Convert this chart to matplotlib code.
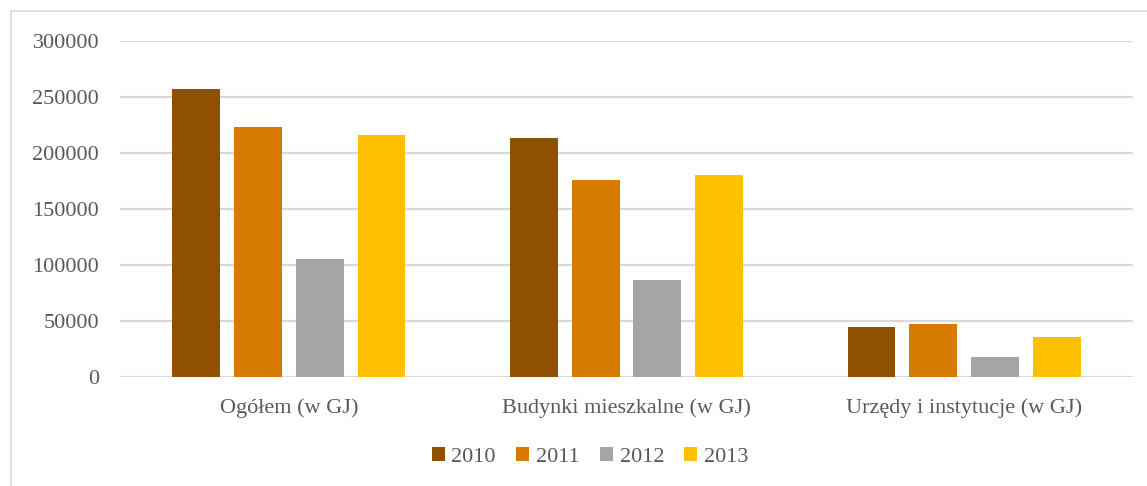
import matplotlib
matplotlib.use("Agg")
import matplotlib.pyplot as plt
from matplotlib.lines import Line2D
from matplotlib.patches import Patch
import numpy as np

categories = ["Ogółem (w GJ)", "Budynki mieszkalne (w GJ)", "Urzędy i instytucje (w GJ)"]
years = ["2010", "2011", "2012", "2013"]
v2010 = [257500, 213000, 44500]
v2011 = [223000, 175700, 47000]
v2012 = [105500, 87000, 18300]
v2013 = [216000, 180500, 35800]
yticks = [0, 50000, 100000, 150000, 200000, 250000, 300000]

series = [v2010, v2011, v2012, v2013]
colors = ["#8F5000", "#D77A00", "#A5A5A5", "#FFC000"]

W, H = 1147, 486
fig = plt.figure(figsize=(W / 100, H / 100), dpi=100)
plt.rcParams["font.family"] = ["Liberation Serif", "DejaVu Serif"]
txt = "#595959"
fs = 16

left, right, top, bottom = 120, 1133, 41, 377
ax = fig.add_axes([left / W, (H - bottom) / H, (right - left) / W, (bottom - top) / H])

x = np.arange(len(categories))
step = 0.183
width = 0.142
for j, (vals, c) in enumerate(zip(series, colors)):
    ax.bar(x + (j - 1.5) * step, vals, width=width, color=c, label=years[j], zorder=3)

ax.set_xlim(-0.5, 2.5)
ax.set_ylim(0, 300000)
ax.set_yticks(yticks)
ax.set_yticklabels([str(v) for v in yticks], fontsize=fs, color=txt)
ax.set_xticks(x)
ax.set_xticklabels(categories, fontsize=fs, color=txt)
ax.tick_params(axis="both", length=0)
ax.tick_params(axis="y", pad=15)
ax.tick_params(axis="x", pad=15)
ax.grid(axis="y", color="#D9D9D9", linewidth=1.6, zorder=0)
for s in ax.spines.values():
    s.set_visible(False)

handles = [Patch(facecolor=c, label=y) for c, y in zip(colors, years)]
fig.legend(handles=handles, loc="center", bbox_to_anchor=(590 / W, (H - 457) / H),
           ncol=4, frameon=False, fontsize=fs, labelcolor=txt,
           handlelength=0.6, handleheight=0.6, handletextpad=0.3, columnspacing=0.9)

# outer border (left and top visible)
fig.add_artist(Line2D([10.5 / W, 10.5 / W], [0, (H - 11) / H], color="#D9D9D9", lw=1.2))
fig.add_artist(Line2D([10.5 / W, 1], [(H - 11) / H, (H - 11) / H], color="#D9D9D9", lw=1.2))

fig.savefig("out.png", dpi=100, facecolor="white")
